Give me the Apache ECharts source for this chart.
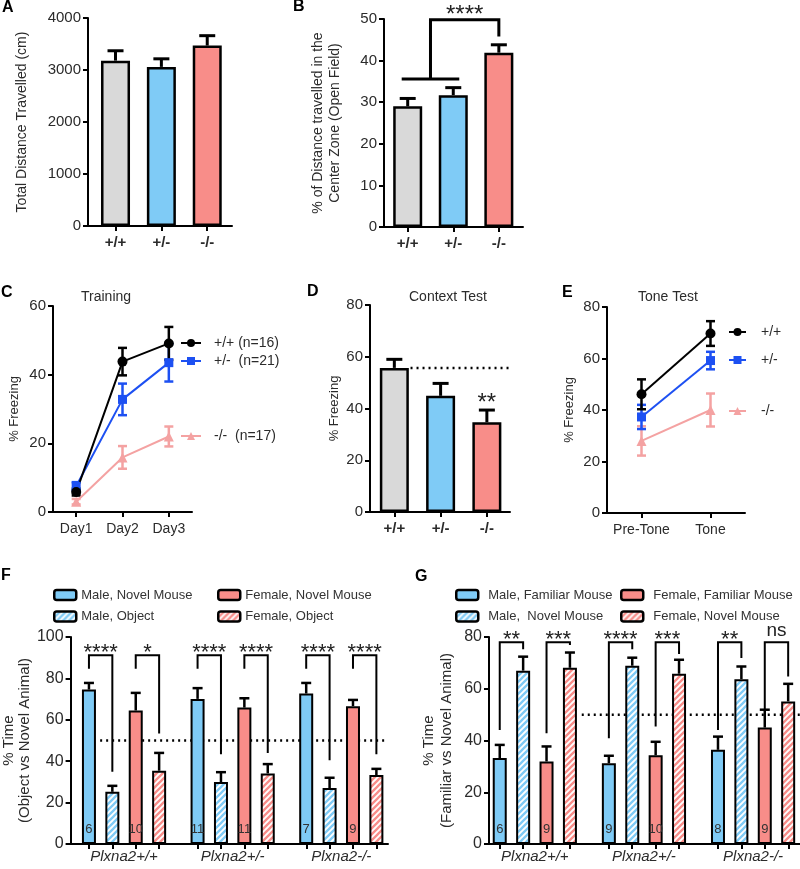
<!DOCTYPE html>
<html>
<head>
<meta charset="utf-8">
<script src="https://cdn.jsdelivr.net/npm/echarts@6/dist/echarts.min.js"></script>
<style>
  html, body { margin: 0; background: #fff; }
  #chart { width: 800px; height: 869px; }
</style>
</head>
<body>
<div id="chart"></div>
<script>
// ---- data ----
const genotypes = ["+/+", "+/-", "-/-"];

// A: total distance
const distMean = [3180, 3060, 3470];
const distSem = [190, 155, 190];

// B: % distance in centre zone
const centerMean = [29.0, 31.7, 41.9];
const centerSem = [1.9, 1.8, 1.9];
const bSig = "****";
const bBracket = [35.6, 49.8, 45.8]; // lower bar, top, right leg end

// C: training
const days = ["Day1", "Day2", "Day3"];
const trainNames = ["+/+ (n=16)", "+/-  (n=21)", "-/-  (n=17)"];
const trainWT = [5.8, 43.8, 49.1];
const trainWTSem = [1.0, 4.0, 4.8];
const trainHet = [7.5, 32.8, 43.5];
const trainHetSem = [1.2, 4.6, 5.5];
const trainKO = [3.0, 15.9, 22.0];
const trainKOSem = [0.8, 3.3, 2.9];

// D: context test
const contextMean = [55.7, 44.9, 34.7];
const contextSem = [3.3, 4.8, 4.7];
const dSig = ["", "", "**"];

// E: tone test
const phases = ["Pre-Tone", "Tone"];
const toneNames = ["+/+", "+/-", "-/-"];
const toneWT = [46.1, 69.7];
const toneWTSem = [5.8, 4.8];
const toneHet = [37.3, 59.2];
const toneHetSem = [4.7, 3.4];
const toneKO = [28.0, 40.0];
const toneKOSem = [5.7, 6.4];

// F / G: social tests
const lines = ["Plxna2+/+", "Plxna2+/-", "Plxna2-/-"];
const chance = 50;

const fNames = ["Male, Novel Mouse", "Male, Object", "Female, Novel Mouse", "Female, Object"];
const fMaleNovel = [74.6, 70.1, 72.7];
const fMaleNovelSem = [3.2, 5.2, 5.1];
const fMaleObject = [25.2, 29.9, 27.0];
const fMaleObjectSem = [2.9, 4.8, 5.0];
const fFemaleNovel = [64.5, 65.9, 66.6];
const fFemaleNovelSem = [8.5, 4.5, 3.0];
const fFemaleObject = [35.4, 34.1, 33.3];
const fFemaleObjectSem = [8.6, 4.5, 3.0];
const fMaleN = [6, 11, 7];
const fFemaleN = [10, 11, 9];
const fSig = ["****", "*", "****", "****", "****", "****"];
const fBracketTop = 91.2;
const fLegLeft = [84.7, 84.7, 84.7, 84.7, 84.7, 84.7];
const fLegRight = [34.9, 53.4, 43.3, 44.0, 40.5, 43.4];
const fChanceFrom = -0.22;

const gNames = ["Male, Familiar Mouse", "Male,  Novel Mouse", "Female, Familiar Mouse", "Female, Novel Mouse"];
const gMaleFam = [33.2, 31.2, 36.4];
const gMaleFamSem = [5.1, 2.9, 5.1];
const gMaleNovel = [67.0, 68.9, 63.7];
const gMaleNovelSem = [5.4, 3.1, 4.9];
const gFemaleFam = [31.9, 34.3, 45.0];
const gFemaleFamSem = [5.8, 5.2, 6.9];
const gFemaleNovel = [68.1, 65.8, 55.1];
const gFemaleNovelSem = [5.9, 5.4, 6.8];
const gMaleN = [6, 9, 8];
const gFemaleN = [9, 10, 9];
const gSig = ["**", "***", "****", "***", "**", "ns"];
const gBracketTop = 78;
const gLegLeft = [44.1, 42.8, 40.9, 45.4, 44.1, 51.9];
const gLegRight = [75.3, 76.9, 75.3, 73.4, 71.9, 64.7];
const gChanceFrom = 0.43;

// ---- styles ----
const FONT = "'Liberation Sans', Arial, sans-serif";
const INK = "#000";
const TXT = "#2b2b2b";
const GRAY = "#d9d9d9";
const BLUE = "#7fcbf6";
const RED = "#f88d89";
const genoColors = [GRAY, BLUE, RED];
const LINE_BLACK = "#000";
const LINE_BLUE = "#1d50f2";
const LINE_PINK = "#f4a2a2";

const BAR_W = 29;      // panels A, B, D
const BAR_FG = 14;     // panels F, G
const GAP_FG = 0.671;
const STEP_FG = BAR_FG * (1 + GAP_FG);

function hatch(color) {
  const s = 6;
  const c = document.createElement("canvas");
  c.width = s; c.height = s;
  const ctx = c.getContext("2d");
  ctx.fillStyle = "#fff";
  ctx.fillRect(0, 0, s, s);
  ctx.strokeStyle = color;
  ctx.lineWidth = 2.3;
  ctx.beginPath();
  ctx.moveTo(0, s); ctx.lineTo(s, 0);
  ctx.moveTo(-s / 2, s / 2); ctx.lineTo(s / 2, -s / 2);
  ctx.moveTo(s / 2, s * 1.5); ctx.lineTo(s * 1.5, s / 2);
  ctx.stroke();
  return { image: c, repeat: "repeat" };
}

const axisLine = { show: true, onZero: false, lineStyle: { color: INK, width: 2 } };
const tickStyle = { color: INK, width: 2 };

function yAx(gi, max, interval, name, nameGap, tickSize, nameSize, lh) {
  return {
    type: "value", gridIndex: gi, min: 0, max, interval,
    name, nameLocation: "middle", nameGap,
    nameTextStyle: { fontSize: nameSize, color: TXT, fontFamily: FONT, lineHeight: lh },
    axisLine, axisTick: { show: true, length: 5, lineStyle: tickStyle },
    axisLabel: { fontSize: tickSize, color: TXT, fontFamily: FONT, margin: 7, formatter: (v) => String(v) },
    splitLine: { show: false },
  };
}

function xVal(gi, min, max, labels, ticks, label) {
  return {
    type: "value", gridIndex: gi, min, max,
    axisLine,
    axisTick: { show: true, length: 5, lineStyle: tickStyle, customValues: ticks },
    axisLabel: Object.assign({
      customValues: labels.map((_, i) => i),
      formatter: (v) => labels[Math.round(v)],
      color: TXT, fontFamily: FONT,
    }, label),
    splitLine: { show: false },
  };
}

function xCat(gi, labels) {
  return {
    type: "category", gridIndex: gi, data: labels, boundaryGap: true,
    axisLine,
    axisTick: { show: true, alignWithLabel: true, interval: 0, length: 5, lineStyle: tickStyle },
    axisLabel: { interval: 0, fontSize: 14, color: TXT, fontFamily: FONT, margin: 10 },
  };
}

// top-only error bars for bar panels; k = bar index inside a group of n
function barErrors(gi, items, n, step, cap, width) {
  return {
    type: "custom", xAxisIndex: gi, yAxisIndex: gi, z: 3, silent: true, clip: false,
    data: items, encode: { x: 0, y: 1 },
    renderItem: (p, api) => {
      const x = api.value(0), m = api.value(1), s = api.value(2), k = api.value(3);
      const dx = (k - (n - 1) / 2) * step;
      const a = api.coord([x, m]), b = api.coord([x, m + s]);
      const cx = a[0] + dx;
      const st = { stroke: INK, lineWidth: width };
      return {
        type: "group", children: [
          { type: "line", shape: { x1: cx, y1: a[1], x2: cx, y2: b[1] }, style: st },
          { type: "line", shape: { x1: cx - cap / 2, y1: b[1], x2: cx + cap / 2, y2: b[1] }, style: st },
        ],
      };
    },
  };
}

function lineErrors(gi, means, sems, color, cap) {
  return {
    type: "custom", xAxisIndex: gi, yAxisIndex: gi, silent: true,
    data: means.map((m, i) => [i, m, sems[i]]), encode: { x: 0, y: 1 },
    renderItem: (p, api) => {
      const x = api.value(0), m = api.value(1), s = api.value(2);
      const hi = api.coord([x, m + s]), lo = api.coord([x, m - s]);
      const st = { stroke: color, lineWidth: 2.5 };
      return {
        type: "group", children: [
          { type: "line", shape: { x1: hi[0], y1: hi[1], x2: lo[0], y2: lo[1] }, style: st },
          { type: "line", shape: { x1: hi[0] - cap / 2, y1: hi[1], x2: hi[0] + cap / 2, y2: hi[1] }, style: st },
          { type: "line", shape: { x1: lo[0] - cap / 2, y1: lo[1], x2: lo[0] + cap / 2, y2: lo[1] }, style: st },
        ],
      };
    },
  };
}

function lineSeries(gi, name, data, color, symbol, size) {
  return {
    type: "line", name, xAxisIndex: gi, yAxisIndex: gi, data,
    symbol, symbolSize: size,
    itemStyle: { color }, lineStyle: { color, width: 2 },
  };
}

function simpleBars(gi, means) {
  return {
    type: "bar", xAxisIndex: gi, yAxisIndex: gi, barWidth: BAR_W, z: 2,
    data: means.map((v, i) => ({ value: [i, v], itemStyle: { color: genoColors[i] } })),
    itemStyle: { borderColor: INK, borderWidth: 2.5 },
  };
}

function groupBars(gi, prefix, names, means, colors, counts) {
  return names.map((nm, k) => ({
    type: "bar", name: prefix + nm, xAxisIndex: gi, yAxisIndex: gi, z: 2,
    barWidth: BAR_FG, barGap: GAP_FG * 100 + "%",
    data: means[k].map((v, g) => [g, v]),
    itemStyle: { color: colors[k], borderColor: INK, borderWidth: 2 },
    label: counts[k] ? {
      show: true, position: "insideBottom", distance: 8,
      formatter: (p) => String(counts[k][p.dataIndex]),
      color: "#333", fontSize: 13, fontFamily: FONT,
    } : { show: false },
  }));
}

function chanceLine(gi, from, to, y) {
  return {
    type: "line", xAxisIndex: gi, yAxisIndex: gi, z: 1, silent: true,
    data: [[from, y], [to, y]], symbol: "none",
    lineStyle: { color: INK, width: 2.5, type: [2, 4] },
  };
}

function brackets(gi, top, legL, legR, sig, size) {
  return {
    type: "custom", xAxisIndex: gi, yAxisIndex: gi, z: 4, silent: true, clip: false,
    data: lines.flatMap((_, g) => [0, 1].map((p) => [g, top, legL[g * 2 + p], legR[g * 2 + p], p])),
    encode: { x: 0, y: 1 },
    renderItem: (params, api) => {
      const g = api.value(0), p = api.value(4);
      const t = api.coord([g, api.value(1)]);
      const xl = t[0] + (2 * p - 1.5) * STEP_FG;
      const xr = t[0] + (2 * p + 1 - 1.5) * STEP_FG;
      const yl = api.coord([g, api.value(2)])[1];
      const yr = api.coord([g, api.value(3)])[1];
      const txt = sig[params.dataIndex];
      const isNs = txt === "ns";
      return {
        type: "group", children: [
          { type: "polyline", shape: { points: [[xl, yl], [xl, t[1]], [xr, t[1]], [xr, yr]] },
            style: { stroke: INK, lineWidth: 2, fill: "none" } },
          { type: "text", style: {
            text: txt, x: (xl + xr) / 2, y: t[1] - (isNs ? 11 : 2),
            textAlign: "center", textVerticalAlign: "middle",
            font: (isNs ? 19 : size) + "px " + FONT, fill: "#222" } },
        ],
      };
    },
  };
}

function legendBox(left, top, data, textPad) {
  return {
    left, top, orient: "vertical", padding: 0, itemGap: 7.4,
    itemWidth: 22, itemHeight: 10, icon: "roundRect", selectedMode: false,
    data, formatter: (n) => n.slice(2),
    itemStyle: { borderColor: INK, borderWidth: 2.5 },
    textStyle: { fontSize: 13, color: "#333", fontFamily: FONT, lineHeight: 14, padding: [0, 0, 0, textPad] },
  };
}

function legendLine(left, top, name, width, textPad) {
  return {
    left, top, padding: 0, itemWidth: width, itemHeight: 10, selectedMode: false,
    data: [name],
    textStyle: { fontSize: 14, color: TXT, fontFamily: FONT, lineHeight: 14, padding: [0, 0, 0, textPad] },
  };
}

function label(text, left, top, bold, size) {
  return {
    text, left, top, padding: 0,
    textStyle: { fontSize: size, fontWeight: bold ? "bold" : "normal", color: bold ? "#000" : TXT, fontFamily: FONT },
  };
}

const fMeans = [fMaleNovel, fMaleObject, fFemaleNovel, fFemaleObject];
const fSems = [fMaleNovelSem, fMaleObjectSem, fFemaleNovelSem, fFemaleObjectSem];
const gMeans = [gMaleFam, gMaleNovel, gFemaleFam, gFemaleNovel];
const gSems = [gMaleFamSem, gMaleNovelSem, gFemaleFamSem, gFemaleNovelSem];
const fgTicks = (lines.flatMap((_, g) => [0, 1, 2, 3].map((k) => g + (k - 1.5) * STEP_FG / 108.8)));
const groupItems = (means, sems) => means.flatMap((arr, k) => arr.map((m, g) => [g, m, sems[k][g], k]));

const fColors = [BLUE, hatch(BLUE), RED, hatch(RED)];
const gColors = [BLUE, hatch(BLUE), RED, hatch(RED)];

const chart = echarts.init(document.getElementById("chart"), null, { renderer: "canvas" });

chart.setOption({
  backgroundColor: "#fff",
  animation: false,
  textStyle: { fontFamily: FONT },
  title: [
    label("A", 2, 0, true, 16),
    label("B", 293, -1, true, 16),
    label("C", 1, 285, true, 16),
    label("D", 307, 284, true, 16),
    label("E", 562, 285, true, 16),
    label("F", 1, 568, true, 16),
    label("G", 415, 569, true, 16),
    label("Training", 81, 290, false, 14),
    label("Context Test", 409, 290, false, 14),
    label("Tone Test", 638, 290, false, 14),
  ],
  legend: [
    legendLine(180, 336, trainNames[0], 20, 8),
    legendLine(180, 354, trainNames[1], 20, 8),
    legendLine(180, 429, trainNames[2], 20, 8),
    legendLine(728, 325, toneNames[0], 17, 10),
    legendLine(728, 353, toneNames[1], 17, 10),
    legendLine(728, 404, toneNames[2], 17, 10),
    legendBox(53, 588, ["F " + fNames[0], "F " + fNames[1]], 0),
    legendBox(217, 588, ["F " + fNames[2], "F " + fNames[3]], 0),
    legendBox(455, 588, ["G " + gNames[0], "G " + gNames[1]], 5),
    legendBox(620, 588, ["G " + gNames[2], "G " + gNames[3]], 5),
  ],
  grid: [
    { left: 88, top: 18, width: 144, height: 208 },
    { left: 384, top: 19, width: 139, height: 208 },
    { left: 53, top: 306, width: 139, height: 206 },
    { left: 370, top: 305, width: 140, height: 207 },
    { left: 607, top: 307, width: 138, height: 206 },
    { left: 70, top: 637, width: 318, height: 207 },
    { left: 489, top: 637, width: 311, height: 207 },
  ],
  xAxis: [
    xVal(0, -0.6, 2.54, genotypes, [0, 1, 2], { fontSize: 15, fontWeight: "bold", margin: 9 }),
    xVal(1, -0.52, 2.53, genotypes, [0, 1, 2], { fontSize: 15, fontWeight: "bold", margin: 9 }),
    xCat(2, days),
    xVal(3, -0.526, 2.5, genotypes, [0, 1, 2], { fontSize: 15, fontWeight: "bold", margin: 9 }),
    xCat(4, phases),
    xVal(5, -0.492, 2.43, lines, fgTicks, { fontSize: 15, fontStyle: "italic", margin: 5 }),
    xVal(6, -0.42, 2.43, lines, fgTicks, { fontSize: 15, fontStyle: "italic", margin: 5 }),
  ],
  yAxis: [
    yAx(0, 4000, 1000, "Total Distance Travelled (cm)", 57, 15, 14, 17),
    yAx(1, 50, 10, "% of Distance travelled in the\nCenter Zone (Open Field)", 40, 15, 14, 17),
    yAx(2, 60, 20, "% Freezing", 31, 15, 13, 15),
    yAx(3, 80, 20, "% Freezing", 28, 15, 13, 15),
    yAx(4, 80, 20, "% Freezing", 30, 15, 13, 15),
    yAx(5, 100, 20, "% Time\n(Object vs Novel Animal)", 32, 16, 15, 16),
    yAx(6, 80, 20, "% Time\n(Familiar vs Novel Animal)", 33, 16, 15, 18),
  ],
  series: [
    // A
    simpleBars(0, distMean),
    barErrors(0, distMean.map((m, i) => [i, m, distSem[i], 0]), 1, 0, 16, 3),
    // B
    simpleBars(1, centerMean),
    barErrors(1, centerMean.map((m, i) => [i, m, centerSem[i], 0]), 1, 0, 16, 3),
    {
      type: "custom", xAxisIndex: 1, yAxisIndex: 1, z: 4, silent: true, clip: false,
      data: [[1, bBracket[0], bBracket[1], bBracket[2]]], encode: { x: 0, y: 1 },
      renderItem: (params, api) => {
        const a = api.coord([0, api.value(1)]);
        const b = api.coord([1, api.value(1)]);
        const c = api.coord([2, api.value(2)]);
        const r = api.coord([2, api.value(3)]);
        const mid = (a[0] + b[0]) / 2;
        const st = { stroke: INK, lineWidth: 3, fill: "none" };
        return {
          type: "group", children: [
            { type: "line", shape: { x1: a[0] - 6, y1: a[1], x2: b[0] + 6, y2: a[1] }, style: st },
            { type: "polyline", shape: { points: [[mid, a[1]], [mid, c[1]], [c[0], c[1]], [c[0], r[1]]] }, style: st },
            { type: "text", style: { text: bSig, x: (mid + c[0]) / 2, y: c[1] - 4.5, textAlign: "center",
              textVerticalAlign: "middle", font: "24px " + FONT, fill: "#222" } },
          ],
        };
      },
    },
    // C
    lineErrors(2, trainKO, trainKOSem, LINE_PINK, 9),
    lineSeries(2, trainNames[2], trainKO, LINE_PINK, "triangle", 10),
    lineErrors(2, trainHet, trainHetSem, LINE_BLUE, 9),
    lineSeries(2, trainNames[1], trainHet, LINE_BLUE, "rect", 9),
    lineErrors(2, trainWT, trainWTSem, LINE_BLACK, 9),
    lineSeries(2, trainNames[0], trainWT, LINE_BLACK, "circle", 10),
    // D
    chanceLine(3, 0.35, 2.5, contextMean[0]),
    simpleBars(3, contextMean),
    barErrors(3, contextMean.map((m, i) => [i, m, contextSem[i], 0]), 1, 0, 16, 3),
    {
      type: "custom", xAxisIndex: 3, yAxisIndex: 3, z: 4, silent: true, clip: false,
      data: contextMean.map((m, i) => [i, m + contextSem[i]]), encode: { x: 0, y: 1 },
      renderItem: (params, api) => {
        const p = api.coord([api.value(0), api.value(1)]);
        return { type: "text", style: { text: dSig[params.dataIndex], x: p[0], y: p[1] - 6.5,
          textAlign: "center", textVerticalAlign: "middle", font: "24px " + FONT, fill: "#222" } };
      },
    },
    // E
    lineErrors(4, toneKO, toneKOSem, LINE_PINK, 9),
    lineSeries(4, toneNames[2], toneKO, LINE_PINK, "triangle", 10),
    lineErrors(4, toneHet, toneHetSem, LINE_BLUE, 9),
    lineSeries(4, toneNames[1], toneHet, LINE_BLUE, "rect", 9),
    lineErrors(4, toneWT, toneWTSem, LINE_BLACK, 9),
    lineSeries(4, toneNames[0], toneWT, LINE_BLACK, "circle", 10),
    // F
    chanceLine(5, fChanceFrom, 2.43, chance),
    ...groupBars(5, "F ", fNames, fMeans, fColors, [fMaleN, null, fFemaleN, null]),
    barErrors(5, groupItems(fMeans, fSems), 4, STEP_FG, 10, 2.5),
    brackets(5, fBracketTop, fLegLeft, fLegRight, fSig, 22),
    // G
    chanceLine(6, gChanceFrom, 2.43, chance),
    ...groupBars(6, "G ", gNames, gMeans, gColors, [gMaleN, null, gFemaleN, null]),
    barErrors(6, groupItems(gMeans, gSems), 4, STEP_FG, 10, 2.5),
    brackets(6, gBracketTop, gLegLeft, gLegRight, gSig, 22),
  ],
});
</script>
</body>
</html>
